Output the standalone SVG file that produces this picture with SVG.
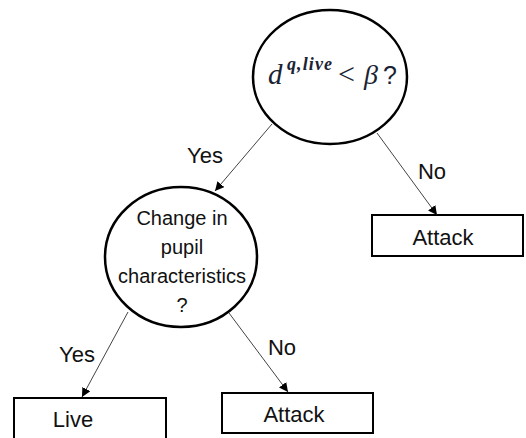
<svg xmlns="http://www.w3.org/2000/svg" width="526" height="438" viewBox="0 0 526 438">
<style>
.node{fill:#fff;stroke:#000;stroke-width:2.5}
.box{fill:#fff;stroke:#000;stroke-width:2}
.t{font-family:"Liberation Sans",Arial,sans-serif;font-size:20px;fill:#111;text-anchor:middle}
.b{font-size:22px}
.m{font-family:"Liberation Serif","DejaVu Serif",serif;fill:#1a2333}
.edge{stroke:#444;stroke-width:1;fill:none;marker-end:url(#arr)}
</style>
<defs>
<marker id="arr" viewBox="0 0 10 10" refX="10" refY="5" markerWidth="9" markerHeight="9" markerUnits="userSpaceOnUse" orient="auto">
<path d="M0,0 L10,5 L0,10 z" fill="#000"/>
</marker>
</defs>
<g id="q1">
<ellipse class="node" cx="330" cy="77" rx="77" ry="67"/>
<text class="m" y="84"><tspan x="268" font-size="29" font-style="italic">d</tspan><tspan x="287" y="70" font-size="18" font-style="italic" font-weight="bold" textLength="45" lengthAdjust="spacing">q,live</tspan><tspan x="338" y="84" font-size="30">&lt;</tspan><tspan x="364" y="84" font-size="28" font-style="italic">β</tspan><tspan x="383" y="84" font-size="25" font-family="Liberation Sans,Arial,sans-serif">?</tspan></text>
</g>
<g id="q2">
<ellipse class="node" cx="181" cy="257" rx="76" ry="70"/>
<text class="t" x="182" y="225">Change in</text>
<text class="t" x="182" y="254">pupil</text>
<text class="t" x="182" y="283">characteristics</text>
<text class="t" x="182" y="312">?</text>
</g>
<g id="attack1">
<rect class="box" x="372" y="215" width="151" height="41"/>
<text class="t b" x="443" y="245">Attack</text>
</g>
<g id="live">
<rect class="box" x="14" y="398" width="152" height="45"/>
<text class="t b" x="73" y="427">Live</text>
</g>
<g id="attack2">
<rect class="box" x="222" y="393" width="151" height="40"/>
<text class="t b" x="294" y="422">Attack</text>
</g>
<g id="connectors">
<line class="edge" x1="272" y1="124" x2="215" y2="191"/>
<line class="edge" x1="377" y1="133" x2="437" y2="215"/>
<line class="edge" x1="128" y1="312" x2="82" y2="397"/>
<line class="edge" x1="229" y1="313" x2="288" y2="392"/>
<text class="t b" x="205" y="163">Yes</text>
<text class="t b" x="432" y="179">No</text>
<text class="t b" x="77" y="362">Yes</text>
<text class="t b" x="282" y="355">No</text>
</g>
</svg>
